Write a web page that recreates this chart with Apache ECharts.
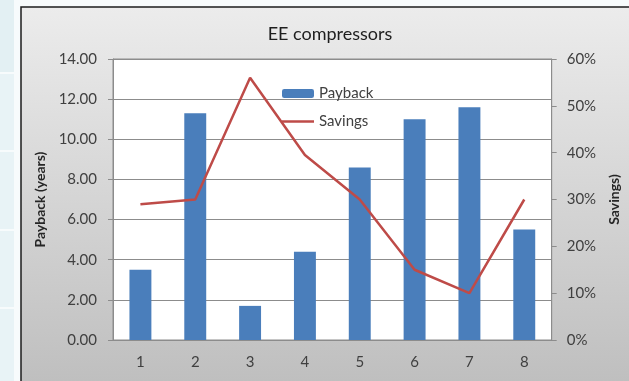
<!DOCTYPE html>
<html>
<head>
<meta charset="utf-8">
<script src="https://cdn.jsdelivr.net/npm/echarts@6/dist/echarts.min.js"></script>
<style>
  html, body { margin: 0; padding: 0; background: #f7fbfc; }
  #chart { width: 629px; height: 381px; }
</style>
</head>
<body>
<div id="chart"></div>
<script>
// Compressor data: payback period (years) and savings (%)
const categories = ['1', '2', '3', '4', '5', '6', '7', '8'];
const payback = [3.5, 11.3, 1.7, 4.4, 8.6, 11.0, 11.6, 5.5];
const savings = [29, 30, 56, 39.5, 30, 15, 10, 30];
const paybackTicks = { min: 0, max: 14, interval: 2 };
const savingsTicks = { min: 0, max: 60, interval: 10 };

const FONT = 'Lato, "Open Sans", sans-serif';
const chart = echarts.init(document.getElementById('chart'), null, { renderer: 'canvas' });

// Spreadsheet strip on the left and the framed chart panel behind everything
const strip = [];
const stripRows = [[0, 72], [74, 150], [152, 229], [231, 307], [309, 381]];
stripRows.forEach(function (r, i) {
  strip.push({
    type: 'rect', z: -100, silent: true,
    shape: { x: 0, y: r[0], width: 14, height: r[1] - r[0] },
    style: { fill: i === 0 ? '#e3f0f3' : '#e8f3f6' }
  });
});

chart.setOption({
  animation: false,
  graphic: strip.concat([{
    type: 'rect', z: -90, silent: true,
    shape: { x: 21, y: 7, width: 620, height: 390 },
    style: {
      fill: new echarts.graphic.LinearGradient(0, 0, 0, 1, [
        { offset: 0, color: '#ececec' },
        { offset: 1, color: '#bdbdbd' }
      ]),
      stroke: '#1c1c1c', lineWidth: 1.5
    }
  }]),
  title: {
    text: 'EE compressors',
    left: 325, textAlign: 'center', top: 20,
    textStyle: { fontFamily: FONT, fontSize: 18, fontWeight: 'normal', color: '#1e1e1e' }
  },
  legend: {
    orient: 'vertical', left: 277, top: 81,
    itemWidth: 32, itemHeight: 9, itemGap: 13,
    textStyle: { fontFamily: FONT, fontSize: 15, color: '#404040' },
    data: [
      { name: 'Payback' },
      { name: 'Savings', icon: 'path://M0,0 L32,0 L32,2.5 L0,2.5 Z' }
    ]
  },
  grid: {
    left: 113, right: 76, top: 59, bottom: 41,
    show: true, backgroundColor: '#ffffff', borderColor: '#8c8c8c', borderWidth: 1
  },
  xAxis: {
    type: 'category', data: categories,
    axisLine: { show: true, lineStyle: { color: '#8c8c8c' } },
    axisTick: { show: false },
    axisLabel: { margin: 15, fontFamily: FONT, fontSize: 15, color: '#404040' }
  },
  yAxis: [{
    type: 'value', min: paybackTicks.min, max: paybackTicks.max, interval: paybackTicks.interval,
    name: 'Payback (years)', nameLocation: 'middle', nameGap: 56, nameRotate: 90,
    nameTextStyle: { fontFamily: FONT, fontSize: 14, fontWeight: 'bold', color: '#262626' },
    axisLine: { show: true, lineStyle: { color: '#8c8c8c' } },
    axisTick: { show: true, length: 5, lineStyle: { color: '#8c8c8c' } },
    axisLabel: {
      margin: 16, fontFamily: FONT, fontSize: 15, color: '#404040',
      formatter: function (v) { return v.toFixed(2); }
    },
    splitLine: { show: true, lineStyle: { color: '#8c8c8c', width: 1 } }
  }, {
    type: 'value', min: savingsTicks.min, max: savingsTicks.max, interval: savingsTicks.interval,
    position: 'right',
    name: 'Savings)', nameLocation: 'middle', nameGap: 48, nameRotate: 90,
    nameTextStyle: { fontFamily: FONT, fontSize: 14, fontWeight: 'bold', color: '#262626' },
    axisLine: { show: true, lineStyle: { color: '#8c8c8c' } },
    axisTick: { show: true, length: 5, lineStyle: { color: '#8c8c8c' } },
    axisLabel: { margin: 15, fontFamily: FONT, fontSize: 15, color: '#404040', formatter: '{value}%' },
    splitLine: { show: false }
  }],
  series: [{
    name: 'Payback', type: 'bar', yAxisIndex: 0,
    data: payback, barWidth: '40%',
    itemStyle: { color: '#4a7ebb' }
  }, {
    name: 'Savings', type: 'line', yAxisIndex: 1,
    data: savings, symbol: 'none', showSymbol: false,
    lineStyle: { color: '#be4b48', width: 2.5 },
    itemStyle: { color: '#be4b48' }
  }]
});
</script>
</body>
</html>
